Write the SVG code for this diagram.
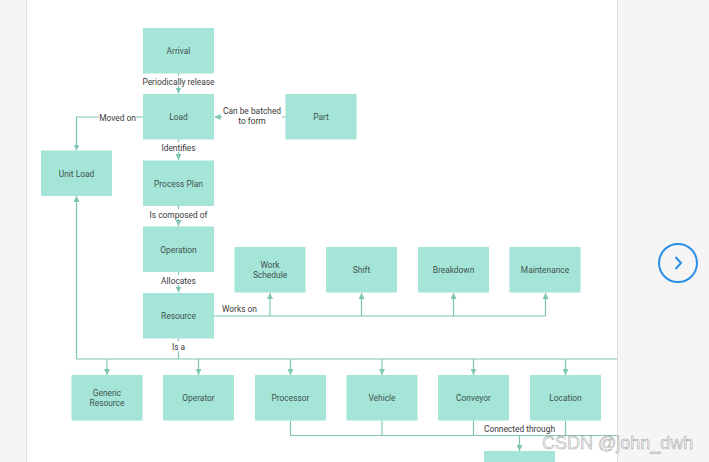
<svg xmlns="http://www.w3.org/2000/svg" width="709" height="462" viewBox="0 0 709 462">
<style>
.node rect{fill:#a4e5d8;}
.node text{font-family:Roboto,"Liberation Sans",sans-serif;font-size:8.4px;fill:#42524f;text-anchor:middle;}
.conn{fill:none;stroke:#7fc6b2;stroke-width:1.2;}
.lbl{font-family:Roboto,"Liberation Sans",sans-serif;font-size:8.4px;fill:#3a3a3a;text-anchor:middle;}
.lbg{fill:#fff;}
</style>
<defs>
<marker id="arr" markerWidth="6" markerHeight="6" refX="6" refY="3" orient="auto" markerUnits="userSpaceOnUse">
<path d="M0,0 L6,3 L0,6 z" fill="#7fc6b2"/>
</marker>
<clipPath id="panel"><rect x="27" y="0" width="590" height="462"/></clipPath>
</defs>
<rect x="0" y="0" width="709" height="462" fill="#f5f5f5"/>
<rect x="27" y="0" width="590" height="462" fill="#fff"/>
<line x1="26.5" y1="0" x2="26.5" y2="462" stroke="#ddd" stroke-width="1"/>
<line x1="617.5" y1="0" x2="617.5" y2="462" stroke="#ddd" stroke-width="1"/>
<g clip-path="url(#panel)">
<g id="connectors">
<path class="conn" d="M178.5,73.5 V93.5" marker-end="url(#arr)"/>
<path class="conn" d="M285.5,117 H214.5" marker-end="url(#arr)"/>
<path class="conn" d="M143,117 H76.5 V150.5" marker-end="url(#arr)"/>
<path class="conn" d="M178.5,139.5 V160" marker-end="url(#arr)"/>
<path class="conn" d="M178.5,206 V226" marker-end="url(#arr)"/>
<path class="conn" d="M178.5,272 V292.5" marker-end="url(#arr)"/>
<path class="conn" d="M214,316 H545.5"/>
<path class="conn" d="M270,316 V293" marker-end="url(#arr)"/>
<path class="conn" d="M361.5,316 V293" marker-end="url(#arr)"/>
<path class="conn" d="M453.5,316 V293" marker-end="url(#arr)"/>
<path class="conn" d="M545.5,316 V293" marker-end="url(#arr)"/>
<path class="conn" d="M178.5,338.5 V359"/>
<path class="conn" d="M76.5,359 H620"/>
<path class="conn" d="M76.5,359 V196" marker-end="url(#arr)"/>
<path class="conn" d="M107,359 V375" marker-end="url(#arr)"/>
<path class="conn" d="M198.5,359 V375" marker-end="url(#arr)"/>
<path class="conn" d="M290.5,359 V375" marker-end="url(#arr)"/>
<path class="conn" d="M382,359 V375" marker-end="url(#arr)"/>
<path class="conn" d="M473.5,359 V375" marker-end="url(#arr)"/>
<path class="conn" d="M565.5,359 V375" marker-end="url(#arr)"/>
<path class="conn" d="M290.5,420.5 V435.5 H620"/>
<path class="conn" d="M382,420.5 V435.5"/>
<path class="conn" d="M473.5,420.5 V435.5"/>
<path class="conn" d="M565.5,420.5 V435.5"/>
<path class="conn" d="M519.5,435.5 V451" marker-end="url(#arr)"/>
<rect class="lbg" x="142" y="76" width="73" height="10"/>
<text class="lbl" x="178.5" y="84.5">Periodically release</text>
<rect class="lbg" x="222" y="104" width="60" height="21"/>
<text class="lbl" x="252" y="113.5">Can be batched</text>
<text class="lbl" x="252" y="123.5">to form</text>
<rect class="lbg" x="99" y="112" width="37" height="10"/>
<text class="lbl" x="117.5" y="120.5">Moved on</text>
<rect class="lbg" x="160" y="142" width="37" height="10"/>
<text class="lbl" x="178.5" y="150.5">Identifies</text>
<rect class="lbg" x="148" y="209" width="61" height="10"/>
<text class="lbl" x="178.5" y="217.5">Is composed of</text>
<rect class="lbg" x="160" y="275" width="37" height="10"/>
<text class="lbl" x="178.5" y="283.5">Allocates</text>
<text class="lbl" x="239.5" y="311.5">Works on</text>
<rect class="lbg" x="170" y="341" width="17" height="10"/>
<text class="lbl" x="178.5" y="349.5">Is a</text>
<rect class="lbg" x="484" y="423" width="71" height="10"/>
<text class="lbl" x="519.5" y="431.5">Connected through</text>
</g>
<g id="arrival" class="node"><rect x="143" y="28" width="71" height="45.5"/><text x="178.5" y="54">Arrival</text></g>
<g id="load" class="node"><rect x="143" y="94" width="71" height="45.5"/><text x="178.5" y="120">Load</text></g>
<g id="part" class="node"><rect x="285.5" y="94" width="71" height="45.5"/><text x="321" y="120">Part</text></g>
<g id="unit-load" class="node"><rect x="41" y="150.5" width="71" height="45.5"/><text x="76.5" y="176.5">Unit Load</text></g>
<g id="process-plan" class="node"><rect x="143" y="160.5" width="71" height="45.5"/><text x="178.5" y="186.5">Process Plan</text></g>
<g id="operation" class="node"><rect x="143" y="226.5" width="71" height="45.5"/><text x="178.5" y="252.5">Operation</text></g>
<g id="resource" class="node"><rect x="143" y="293" width="71" height="45.5"/><text x="178.5" y="319">Resource</text></g>
<g id="work-schedule" class="node"><rect x="234.5" y="247" width="71" height="45.5"/><text x="270" y="268">Work</text><text x="270" y="277.5">Schedule</text></g>
<g id="shift" class="node"><rect x="326" y="247" width="71" height="45.5"/><text x="361.5" y="273">Shift</text></g>
<g id="breakdown" class="node"><rect x="418" y="247" width="71" height="45.5"/><text x="453.5" y="273">Breakdown</text></g>
<g id="maintenance" class="node"><rect x="509.5" y="247" width="71" height="45.5"/><text x="545" y="273">Maintenance</text></g>
<g id="generic-resource" class="node"><rect x="71.5" y="375" width="71" height="45.5"/><text x="107" y="396">Generic</text><text x="107" y="405.5">Resource</text></g>
<g id="operator" class="node"><rect x="163" y="375" width="71" height="45.5"/><text x="198.5" y="401">Operator</text></g>
<g id="processor" class="node"><rect x="255" y="375" width="71" height="45.5"/><text x="290.5" y="401">Processor</text></g>
<g id="vehicle" class="node"><rect x="346.5" y="375" width="71" height="45.5"/><text x="382" y="401">Vehicle</text></g>
<g id="conveyor" class="node"><rect x="438" y="375" width="71" height="45.5"/><text x="473.5" y="401">Conveyor</text></g>
<g id="location" class="node"><rect x="530" y="375" width="71" height="45.5"/><text x="565.5" y="401">Location</text></g>
<g id="path-node" class="node"><rect x="484" y="451" width="71" height="45.5"/></g>
</g>
<circle cx="678" cy="263" r="19" fill="none" stroke="#2b8fe8" stroke-width="2"/>
<path d="M675.5,257 L681,263 L675.5,269" fill="none" stroke="#2b8fe8" stroke-width="2"/>
<text x="542" y="449" font-family="Liberation Sans,Arial,sans-serif" font-size="18" fill="#f4f4f4" stroke="#9a9a9a" stroke-width="0.45">CSDN @john_dwh</text>
</svg>
